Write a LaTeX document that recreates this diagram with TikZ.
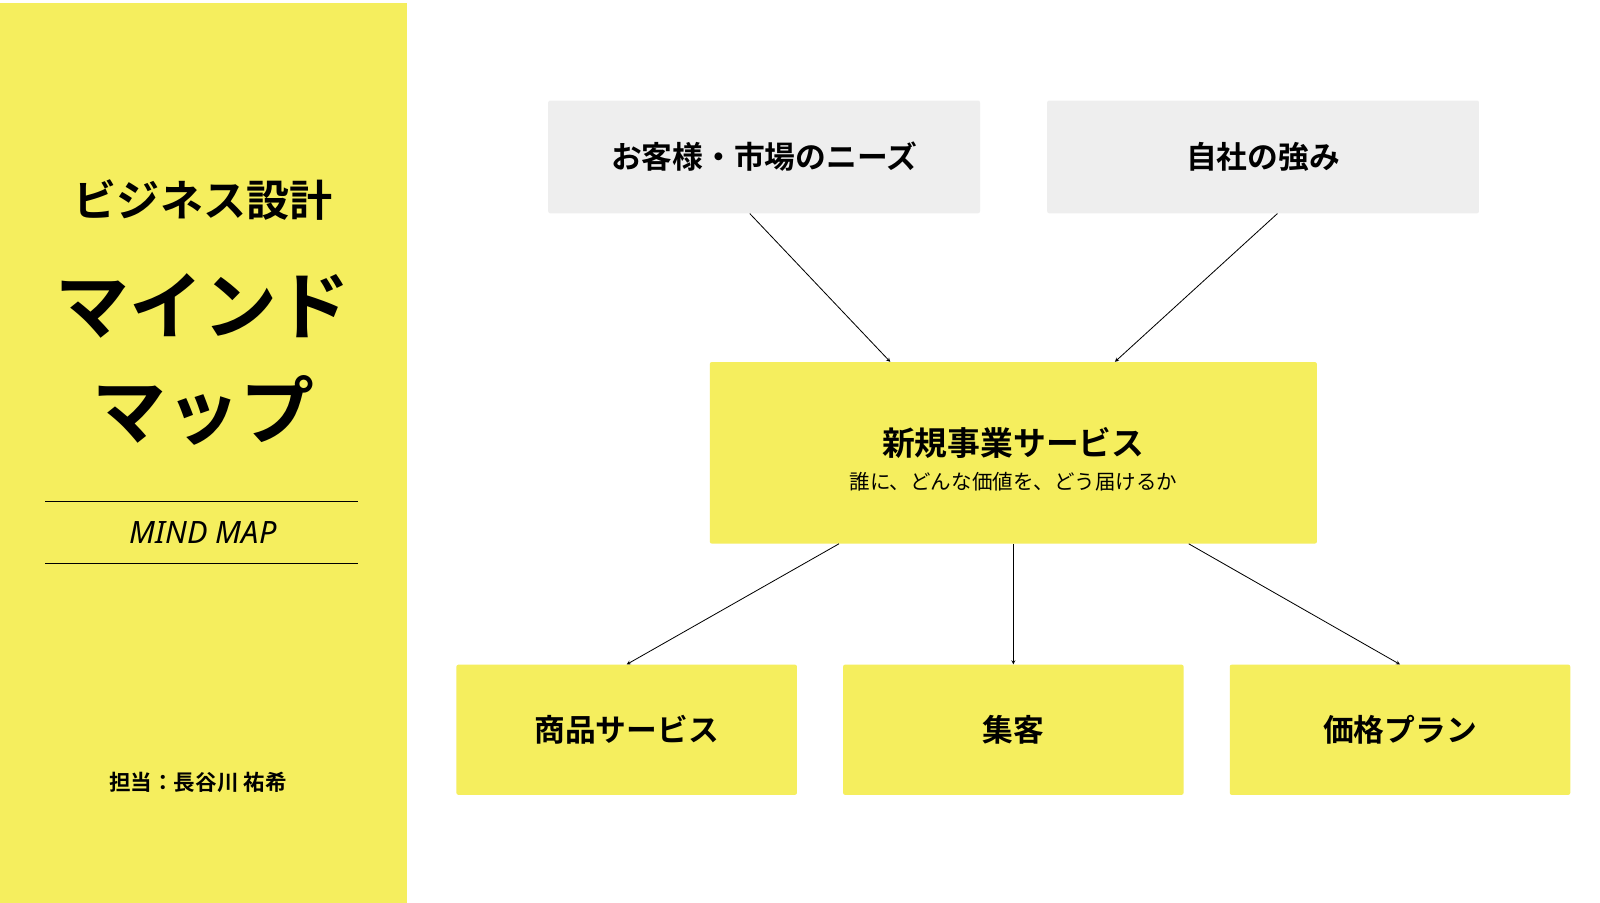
\documentclass[tikz,border=0pt]{standalone}
\usepackage{fontspec}
\setmainfont{Noto Sans CJK JP}
\newfontfamily\cjkbold{Noto Sans CJK JP Bold}
\newfontfamily\latinsans{Noto Sans}
\usetikzlibrary{calc}
\definecolor{panelyellow}{HTML}{F5EE5E}
\definecolor{boxgray}{HTML}{EEEEEE}
\tikzset{
  box/.style={rounded corners=2pt, inner sep=0pt, font=\cjkbold\fontsize{30}{36}\selectfont},
  graybox/.style={box, fill=boxgray, minimum width=421, minimum height=110},
  yellowbox/.style={box, fill=panelyellow, minimum width=332, minimum height=127},
  link/.style={-stealth, thick, black}
}
\begin{document}
\begin{tikzpicture}[x=1pt,y=-1pt]
\useasboundingbox (0,0) rectangle (1560,880);
\fill[white] (0,0) rectangle (1560,880);

% left panel
\fill[panelyellow] (0,3) rectangle (397,880);
\node[font=\cjkbold\fontsize{42}{48}\selectfont] (title) at (198,195) {ビジネス設計};
\node[font=\cjkbold\fontsize{72}{80}\selectfont] (mind) at (198,298) {マインド};
\node[font=\cjkbold\fontsize{72}{80}\selectfont] (map) at (198,400) {マップ};
\draw[thick] (44,489) -- (349,489);
\draw[thick] (44,549) -- (349,549);
\node[font=\latinsans\itshape\fontsize{30}{36}\selectfont] (eng) at (198,519) {MIND\ MAP};
\node[font=\cjkbold\fontsize{21}{26}\selectfont] (owner) at (193,763) {担当：長谷川 祐希};

% top boxes
\node[graybox] (needs) at (745,153) {お客様・市場のニーズ};
\node[graybox] (strength) at (1231.5,153) {自社の強み};

% center box
\node[box, fill=panelyellow, minimum width=592, minimum height=177] (core) at (988,441.5) {};
\node[font=\cjkbold\fontsize{32}{38}\selectfont] (coretitle) at (988,432) {新規事業サービス};
\node[font=\fontsize{20}{24}\selectfont] (coresub) at (988,470) {誰に、どんな価値を、どう届けるか};

% bottom boxes
\node[yellowbox] (product) at (611,711.5) {商品サービス};
\node[yellowbox] (customer) at (988,711.5) {集客};
\node[yellowbox] (price) at (1365,711.5) {価格プラン};

% connectors
\draw[link] ($(needs.south)+(-14,0)$) -- ($(core.north)+(-120,0)$);
\draw[link] ($(strength.south)+(14,0)$) -- ($(core.north)+(99,0)$);
\draw[link] ($(core.south)+(-170,0)$) -- (product.north);
\draw[link] (core.south) -- (customer.north);
\draw[link] ($(core.south)+(171,0)$) -- (price.north);
\end{tikzpicture}
\end{document}
